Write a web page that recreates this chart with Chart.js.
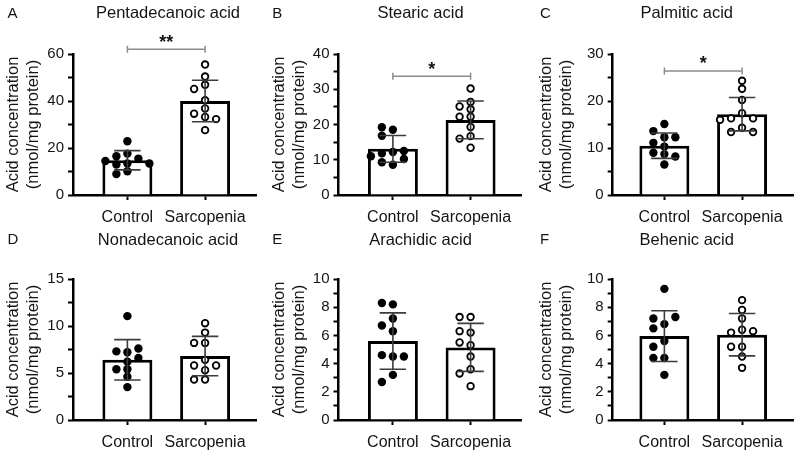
<!DOCTYPE html>
<html lang="en">
<head>
<meta charset="UTF-8">
<title>Saturated fatty acids</title>
<script src="https://cdn.jsdelivr.net/npm/chart.js@4.4.0/dist/chart.umd.min.js"></script>
<style>
  body { margin: 0; background: #fff; }
  #wrap { position: relative; width: 800px; height: 454px; }
  #wrap canvas { position: absolute; }
</style>
</head>
<body>
<div id="wrap"></div>
<script>
const groups = ['Control', 'Sarcopenia'];
const letters = ['A', 'B', 'C', 'D', 'E', 'F'];
const acids = ['Pentadecanoic acid', 'Stearic acid', 'Palmitic acid', 'Nonadecanoic acid', 'Arachidic acid', 'Behenic acid'];
const yMax = [60, 40, 30, 15, 10, 10];
const yLabelStep = [20, 10, 10, 5, 2, 2];
const yMinorStep = [10, 5, 5, 2.5, 1, 1];

// bar height (mean) and error bar (SD) for Control, Sarcopenia
const means = [[14.8, 40.0], [13.1, 21.3], [10.5, 17.2], [6.4, 6.8], [5.6, 5.15], [5.95, 6.05]];
const sds = [[4.1, 8.8], [3.8, 5.35], [2.7, 3.55], [2.15, 2.1], [2.0, 1.7], [1.8, 1.5]];

// individual samples
const pentadecanoicCtrl = [22.9, 17.6, 16.5, 15.5, 14.5, 13.4, 13.0, 13.4, 10.1, 8.9];
const pentadecanoicSarc = [55.5, 50.4, 46.9, 45.1, 40.3, 36.8, 34.6, 33.2, 32.3, 27.6];
const stearicCtrl = [18.5, 19.2, 16.8, 12.2, 11.8, 12.5, 10.2, 8.6, 9.3, 11.0];
const stearicSarc = [30.2, 26.4, 24.3, 25.1, 22.2, 22.2, 19.3, 16.7, 16.0, 13.4];
const palmiticCtrl = [15.1, 13.6, 12.3, 12.3, 11.1, 10.3, 8.7, 9.0, 8.2, 6.5];
const palmiticSarc = [24.3, 22.6, 20.2, 17.4, 16.3, 16.3, 16.0, 14.3, 13.4, 13.4];
const nonadecanoicCtrl = [11.05, 7.2, 7.3, 7.6, 6.6, 6.2, 5.4, 5.4, 4.6, 3.5];
const nonadecanoicSarc = [10.3, 9.3, 8.2, 8.2, 6.4, 5.8, 5.8, 5.3, 4.3, 4.3];
const arachidicCtrl = [8.2, 8.3, 7.2, 6.7, 6.3, 4.5, 4.6, 4.5, 3.2, 2.7];
const arachidicSarc = [7.3, 7.3, 6.2, 6.3, 5.3, 5.5, 4.5, 3.6, 3.3, 2.4];
const behenicCtrl = [9.3, 6.8, 7.2, 7.3, 6.5, 5.6, 5.2, 4.4, 4.4, 3.2];
const behenicSarc = [8.5, 7.8, 7.2, 6.4, 6.2, 6.3, 5.2, 5.2, 4.5, 3.7];

const ctrlSamples = [pentadecanoicCtrl, stearicCtrl, palmiticCtrl, nonadecanoicCtrl, arachidicCtrl, behenicCtrl];
const sarcSamples = [pentadecanoicSarc, stearicSarc, palmiticSarc, nonadecanoicSarc, arachidicSarc, behenicSarc];

// significance bracket
const sigMarks = ['**', '*', '*', '', '', ''];
const sigLevel = [62, 33.7, 26.4, null, null, null];

// layout per column
const colLeft = [0, 266, 533];
const colWidth = [266, 267, 267];
const axisLeft = [73, 72.5, 79.7];
const xMin = [-0.7, -0.7, -0.665];
const titleShift = [95, 82, 74];
const letterX = [7.5, 6.3, 7];

const FONT = "'Liberation Sans', Arial, sans-serif";
const TXT = '#141414';
Chart.defaults.font.family = FONT;
Chart.defaults.color = TXT;

// spread points sideways so they don't overlap
function swarm(els) {
  const placed = [];
  els.forEach(el => {
    const cx = el.x;
    for (let k = 0; k < 15; k++) {
      const dx = Math.ceil(k / 2) * 11 * (k % 2 ? -1 : 1);
      if (placed.every(q => Math.hypot(q.x - cx - dx, q.y - el.y) >= 7.4)) {
        el.x = cx + dx;
        break;
      }
    }
    placed.push(el);
  });
}

const statsPlugin = {
  id: 'stats',
  afterDatasetsUpdate(chart) {
    swarm(chart.getDatasetMeta(0).data);
    swarm(chart.getDatasetMeta(1).data);
  },
  afterDatasetsDraw(chart, args, opts) {
    const i = opts.panel;
    const {ctx, scales: {x, y}} = chart;
    ctx.save();
    ctx.strokeStyle = '#3c3c3c';
    ctx.lineWidth = 1.6;
    means[i].forEach((m, g) => {
      const cx = x.getPixelForValue(g);
      const half = x.getPixelForValue(g + 0.17) - cx;
      const top = y.getPixelForValue(m + sds[i][g]);
      const bot = y.getPixelForValue(m - sds[i][g]);
      ctx.beginPath();
      ctx.moveTo(cx, top); ctx.lineTo(cx, bot);
      ctx.moveTo(cx - half, top); ctx.lineTo(cx + half, top);
      ctx.moveTo(cx - half, bot); ctx.lineTo(cx + half, bot);
      ctx.stroke();
    });
    if (sigMarks[i]) {
      const x0 = x.getPixelForValue(0), x1 = x.getPixelForValue(1);
      const by = y.getPixelForValue(sigLevel[i]);
      ctx.strokeStyle = '#8c8c8c';
      ctx.lineWidth = 1.5;
      ctx.beginPath();
      ctx.moveTo(x0, by); ctx.lineTo(x1, by);
      ctx.moveTo(x0, by - 3.5); ctx.lineTo(x0, by + 3.5);
      ctx.moveTo(x1, by - 3.5); ctx.lineTo(x1, by + 3.5);
      ctx.stroke();
      ctx.fillStyle = TXT;
      ctx.font = 'bold 18px ' + FONT;
      ctx.textAlign = 'center';
      ctx.textBaseline = 'alphabetic';
      ctx.fillText(sigMarks[i], (x0 + x1) / 2, by - 1.5);
    }
    ctx.restore();
  },
  afterDraw(chart, args, opts) {
    const {ctx, chartArea} = chart;
    const ty = opts.row ? 15 : 13.5;
    ctx.save();
    ctx.fillStyle = TXT;
    ctx.textBaseline = 'middle';
    ctx.textAlign = 'left';
    ctx.font = '15px ' + FONT;
    ctx.fillText(letters[opts.panel], letterX[opts.col], ty);
    ctx.textAlign = 'center';
    ctx.font = '16.5px ' + FONT;
    ctx.fillText(acids[opts.panel], chartArea.left + titleShift[opts.col], ty);
    ctx.restore();
  }
};

const wrap = document.getElementById('wrap');

acids.forEach((name, i) => {
  const col = i % 3, row = Math.floor(i / 3);
  const canvas = document.createElement('canvas');
  canvas.width = colWidth[col];
  canvas.height = 227;
  canvas.style.width = colWidth[col] + 'px';
  canvas.style.height = '227px';
  canvas.style.left = colLeft[col] + 'px';
  canvas.style.top = (row * 225) + 'px';
  wrap.appendChild(canvas);

  const plotWidth = col === 2 ? 180.3 : 183;
  const unit = 77.7;
  const xMax = xMin[col] + plotWidth / unit;

  new Chart(canvas, {
    type: 'bar',
    data: {
      datasets: [
        {
          type: 'scatter',
          data: ctrlSamples[i].map(v => ({x: 0, y: v})),
          pointRadius: 4.2,
          pointBackgroundColor: '#000',
          pointBorderColor: '#000',
          pointBorderWidth: 0,
          order: 1
        },
        {
          type: 'scatter',
          data: sarcSamples[i].map(v => ({x: 1, y: v})),
          pointRadius: 3.3,
          pointBackgroundColor: '#fff',
          pointBorderColor: '#000',
          pointBorderWidth: 1.8,
          order: 1
        },
        {
          type: 'bar',
          data: means[i].map((m, g) => ({x: g, y: m})),
          backgroundColor: '#fff',
          borderColor: '#000',
          borderWidth: 3,
          barPercentage: 0.643,
          categoryPercentage: 1,
          order: 2
        }
      ]
    },
    options: {
      responsive: false,
      animation: false,
      events: [],
      layout: { padding: { top: 54, left: 0, bottom: 0, right: colWidth[col] - axisLeft[col] - plotWidth } },
      plugins: {
        legend: { display: false },
        tooltip: { enabled: false },
        stats: { panel: i, col: col, row: row }
      },
      scales: {
        x: {
          type: 'linear',
          min: xMin[col],
          max: xMax,
          offset: false,
          afterBuildTicks: s => { s.ticks = groups.map((g, k) => ({value: k})); },
          afterFit: s => { s.height = 32; },
          ticks: {
            callback: v => groups[v],
            autoSkip: false,
            maxRotation: 0,
            padding: 8,
            color: TXT,
            font: { size: 16 }
          },
          grid: { drawOnChartArea: false, offset: false, color: '#000', tickLength: 5, tickWidth: 2 },
          border: { color: '#000', width: 2.5 }
        },
        y: {
          min: 0,
          max: yMax[i],
          afterFit: s => { s.width = axisLeft[col]; },
          ticks: {
            stepSize: yMinorStep[i],
            autoSkip: false,
            callback: v => (v % yLabelStep[i] === 0 ? v : ''),
            padding: 4,
            color: TXT,
            font: { size: 15 }
          },
          grid: { drawOnChartArea: false, color: '#000', tickLength: 5, tickWidth: 2 },
          border: { color: '#000', width: 2.5 },
          title: {
            display: true,
            text: ['Acid concentration', '(nmol/mg protein)'],
            color: TXT,
            font: { size: 16.5, lineHeight: 1.25 },
            padding: { top: 3, bottom: 0 }
          }
        }
      }
    },
    plugins: [statsPlugin]
  });
});
</script>
</body>
</html>
